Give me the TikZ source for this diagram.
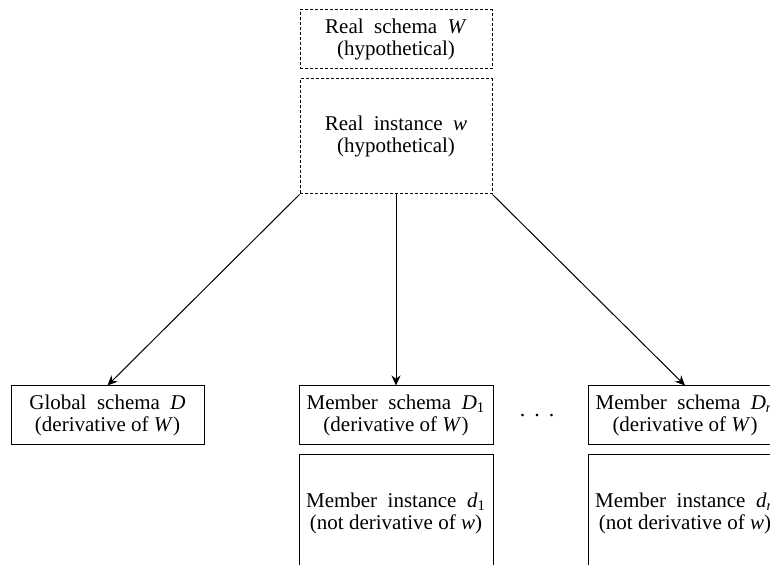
\documentclass[tikz,border=0pt]{standalone}
\usepackage{fontspec}
\setmainfont{Liberation Serif}
\usetikzlibrary{arrows.meta}

\begin{document}
\begin{tikzpicture}[x=0.5pt,y=-0.5pt,
  box/.style={draw,line width=0.5pt,minimum width=97pt,minimum height=29.5pt,
    inner sep=0pt,align=center,font=\fontsize{10.5}{11}\selectfont},
  hypobox/.style={box,dash pattern=on 1.5pt off 1pt},
  derive/.style={line width=0.5pt,-{Stealth[length=5pt,width=4.5pt]}}]
  \useasboundingbox (0,0) rectangle (770,565);
  \clip (0,0) rectangle (770,565);
  % hypothetical real world
  \node[hypobox,minimum width=96pt] (realschema) at (396,39.5) {Real~~schema~~\textit{W}\\(hypothetical)};
  \node[hypobox,minimum width=96pt,minimum height=57.5pt] (realinst) at (396,136.5) {Real~~instance~~\textit{w}\\(hypothetical)};
  % derived schemas
  \node[box,minimum width=96.5pt] (global) at (107.5,415.5) {Global~~schema~~\textit{D}\\(derivative of \textit{W})};
  \node[box] (memschema1) at (396,415.5) {Member~~schema~~\textit{D}\textsubscript{1}\\(derivative of \textit{W})};
  \node[box] (memschemaN) at (685,415.5) {Member~~schema~~\textit{D}\textsubscript{\textit{n}}\\(derivative of \textit{W})};
  \node[anchor=base,inner sep=0pt,font=\fontsize{11}{11}\selectfont] (dots) at (537,417) {.\hspace{4.5pt}.\hspace{4.5pt}.};
  % member instances (cut off at the bottom)
  \node[box,minimum height=58pt] (meminst1) at (396,513) {Member~~instance~~\textit{d}\textsubscript{1}\\(not derivative of \textit{w})};
  \node[box,minimum height=58pt] (meminstN) at (685,513) {Member~~instance~~\textit{d}\textsubscript{\textit{n}}\\(not derivative of \textit{w})};
  % arrows
  \draw[derive] (realinst.south west) -- (global.north);
  \draw[derive] (realinst.south) -- (memschema1.north);
  \draw[derive] (realinst.south east) -- (memschemaN.north);
\end{tikzpicture}
\end{document}
